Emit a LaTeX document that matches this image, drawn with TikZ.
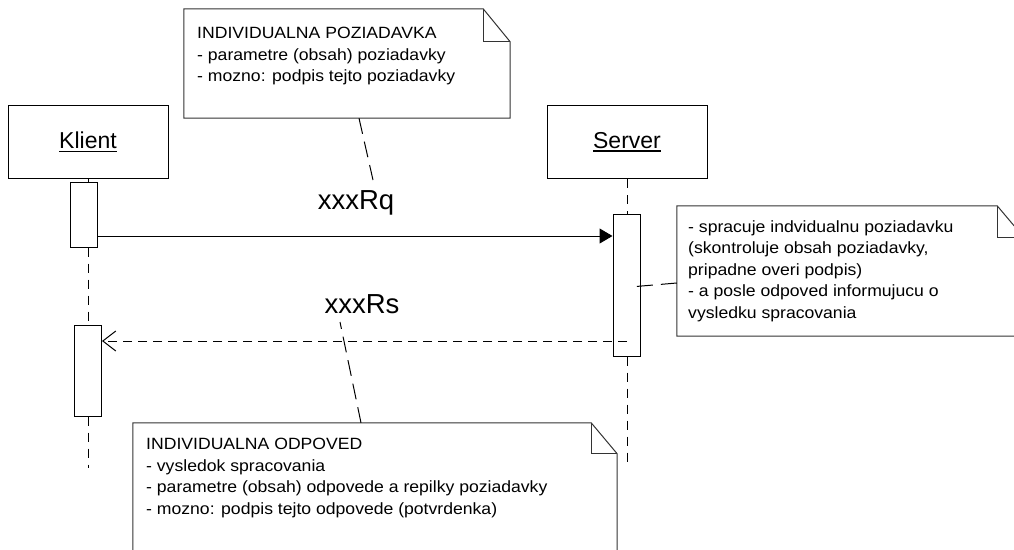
\documentclass[tikz,border=0pt]{standalone}
\usepackage{fontspec}
\setmainfont{Liberation Sans}
\newfontfamily\notefont[FakeStretch=1.08]{Liberation Sans}
\usetikzlibrary{arrows.meta}

% underlined object name
\newcommand{\objname}[1]{\setbox0\hbox{#1}\rlap{\vrule height -1.8pt depth 3.1pt width \wd0}\box0}

\tikzset{
  objbox/.style={draw, line width=1pt, fill=white, minimum width=160pt, minimum height=73pt,
    inner sep=0pt, font=\fontsize{23}{27}\selectfont},
  actbox/.style={draw, line width=1pt, fill=white, minimum width=27pt, inner sep=0pt},
  lifeline/.style={line width=1pt, dash pattern=on 9pt off 7pt},
  callmsg/.style={line width=1pt, -{Triangle[length=13pt,width=15pt]}},
  replymsg/.style={line width=1pt, dash pattern=on 9pt off 6pt,
    -{Straight Barb[length=13pt,width=20pt,line width=1pt]}},
  msglabel/.style={anchor=base, inner sep=0pt, font=\fontsize{27.5}{30}\selectfont},
  notebody/.style={inner sep=0pt},
  noteline/.style={draw=black!80, line width=1pt},
  % multi-line text is placed by the baseline of its last line
  notetext/.style={anchor=base west, inner sep=0pt, align=left,
    font=\notefont\fontsize{16.3}{21.5}\selectfont},
  notelink/.style={line width=1pt, dash pattern=on 16pt off 8pt}
}

% note outline with a folded corner
\newcommand{\dognote}[3]{% name, fold width, fold height
  \path (#1.north east) ++(-#2,0) coordinate (#1-fa) ++(#2,#3) coordinate (#1-fb);
  \draw[noteline, fill=white] (#1.north west) -- (#1-fa) -- (#1-fb) -- (#1.south east)
    -- (#1.south west) -- cycle;
  \draw[noteline] (#1-fa) |- (#1-fb);
}

\begin{document}
\begin{tikzpicture}[x=1pt, y=-1pt]
\useasboundingbox (0,0) rectangle (1014,549);
\clip (0,0) rectangle (1014,549);

% participants
\node[objbox] (klient) at (88,142) {\objname{Klient}};
\node[objbox] (server) at (627,142) {\objname{Server}};

% activations
\node[actbox, minimum height=65pt] (ka1) at (83.5,214.5) {};
\node[actbox, minimum height=91pt] (ka2) at (88,370.5) {};
\node[actbox, minimum height=142pt] (sa) at (626.5,285) {};

% lifelines
\draw[lifeline] (klient.south) -- (klient.south |- ka1.north);
\draw[lifeline] (klient.south |- ka1.south) -- (ka2.north);
\draw[lifeline] (ka2.south) -- ++(0,51);
\draw[lifeline] (server.south) -- (server.south |- sa.north);
\draw[lifeline] (server.south |- sa.south) -- ++(0,111);

% messages
\coordinate (rq) at (0,236);
\coordinate (rs) at (0,341);
\draw[callmsg] (ka1.east |- rq) -- (sa.west |- rq);
\draw[replymsg] (server.south |- rs) -- (ka2.east |- rs);
\node[msglabel] (lrq) at (356,209.5) {xxxRq};
\node[msglabel] (lrs) at (362,313) {xxxRs};

% notes
\node[notebody, minimum width=326pt, minimum height=109pt] (na) at (347,63.5) {};
\dognote{na}{27}{33}
\node[notetext] (ta) at (197,81.5) {INDIVIDUALNA POZIADAVKA\\- parametre (obsah) poziadavky\\- mozno: podpis tejto poziadavky};

\node[notebody, minimum width=347pt, minimum height=130pt] (nb) at (850.5,271) {};
\dognote{nb}{27}{32}
\node[notetext] (tb) at (688,318) {- spracuje indvidualnu poziadavku\\(skontroluje obsah poziadavky,\\pripadne overi podpis)\\- a posle odpoved informujucu o\\vysledku spracovania};

\node[notebody, minimum width=484pt, minimum height=160pt] (nc) at (375,503) {};
\dognote{nc}{26}{31}
\node[notetext] (tc) at (146,514) {INDIVIDUALNA ODPOVED\\- vysledok spracovania\\- parametre (obsah) odpovede a repilky poziadavky\\- mozno: podpis tejto odpovede (potvrdenka)};

% note links
\coordinate (la) at (373,180);
\coordinate (lb) at (630,287);
\coordinate (lc) at (340,322);
\draw[notelink] (na.south -| 359,0) -- (la);
\draw[notelink] (nb.west |- 0,283) -- (lb);
\draw[notelink] (nc.north -| 361,0) -- (lc);
\end{tikzpicture}
\end{document}
